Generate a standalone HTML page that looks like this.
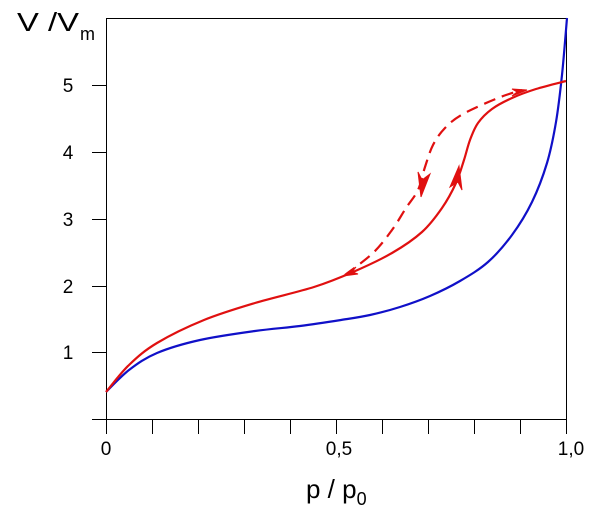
<!DOCTYPE html>
<html><head><meta charset="utf-8"><style>body{margin:0;background:#fff}svg{display:block}</style></head>
<body>
<svg id="s" width="607" height="512" xmlns="http://www.w3.org/2000/svg" font-family="Liberation Sans, Arial, sans-serif">
<rect width="607" height="512" fill="#fff"/>
<g stroke="#000" stroke-width="1" fill="none">
<rect x="106.5" y="18.5" width="460" height="401"/>
<path d="M92 85.5H106M92 152.5H106M92 219.5H106M92 286.5H106M92 352.5H106M92 419.5H106"/>
<path d="M106.5 420V434M152.5 420V434M198.5 420V434M244.5 420V434M290.5 420V434M336.5 420V434M382.5 420V434M428.5 420V434M474.5 420V434M520.5 420V434M566.5 420V434"/>
</g>
<g font-size="19" fill="#000" text-anchor="middle">
<text x="68" y="92">5</text><text x="68" y="159">4</text><text x="68" y="226">3</text><text x="68" y="293">2</text><text x="68" y="359">1</text>
<text x="106" y="455">0</text><text x="339" y="455">0,5</text><text x="571" y="455">1,0</text>
</g>
<text x="17" y="31" font-size="26" textLength="62" lengthAdjust="spacingAndGlyphs">V /V</text><text x="80" y="40" font-size="18">m</text>
<text x="306" y="498" font-size="26">p / p<tspan font-size="18" dy="7">0</tspan></text>
<path id="b" fill="none" stroke="#1010c8" stroke-width="2.2"/>
<path id="r" fill="none" stroke="#e01010" stroke-width="2.2"/>
<path id="d" fill="none" stroke="#e01010" stroke-width="2.2" stroke-dasharray="12 7"/>
<g fill="#e01010" stroke="#e01010" stroke-width="1">
<path d="M421 197 L418 172 L422 180 L430 174 Z"/>
<path d="M459 166 L462 190 L458 182 L450 187 Z"/>
<path d="M527 90 L512 89 L517 92 L512 96 Z"/>
<path d="M343 276 L356 267 L352 272 L358 274 Z"/>
</g>
</svg>
<script>
function cr(p){let d="M"+p[0][0]+" "+p[0][1];for(let i=0;i<p.length-1;i++){const a=p[i-1]||p[i],b=p[i],c=p[i+1],e=p[i+2]||c;
d+=" C"+(b[0]+(c[0]-a[0])/6)+" "+(b[1]+(c[1]-a[1])/6)+" "+(c[0]-(e[0]-b[0])/6)+" "+(c[1]-(e[1]-b[1])/6)+" "+c[0]+" "+c[1];}return d;}
document.getElementById("b").setAttribute("d",cr([[106,392],[129,370],[157,353],[200,340],[255,331],[300,326],[341,320],[370,315],[400,307],[430,296],[460,281],[488,262],[512,235],[532,202],[547,163],[556,122],[562,75],[567,18]]));
document.getElementById("r").setAttribute("d",cr([[106,392],[129,365],[157,343],[204,320],[255,303],[314,287],[353,272],[392,253],[422,232],[442,208],[456,183],[464,160],[470,140],[478,123],[492,109],[512,98],[536,89],[566,81]]));
document.getElementById("d").setAttribute("d",cr([[345,275],[373,253],[392,230],[406,208],[418,190],[425,167],[433,145],[445,128],[463,114],[498,98],[522,90]]));
</script>
</body></html>
